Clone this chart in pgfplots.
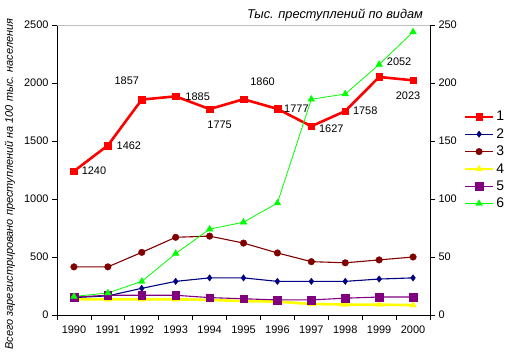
\documentclass[border=0pt]{standalone}
\usepackage{pgfplots}
\pgfplotsset{compat=1.18}
\usepackage{fontspec}
\setmainfont{Liberation Sans}
\definecolor{navyc}{RGB}{0,0,128}
\definecolor{maroonc}{RGB}{128,0,0}
\definecolor{purplec}{RGB}{128,0,128}
\definecolor{greenc}{RGB}{0,255,0}
\definecolor{yellowc}{RGB}{255,255,0}
\begin{document}
\begin{tikzpicture}[x=1bp,y=1bp]
\useasboundingbox (0,0) rectangle (513,357);
\pgfplotsset{
  common/.style={
    scale only axis, width=373bp, height=290bp,
    at={(57bp,42bp)}, anchor=south west,
    xmin=-0.5, xmax=10.5,
    /pgf/number format/assume math mode=true,
    tick label style={font=\fontsize{11}{13}\selectfont},
    tick align=outside, major tick length=5bp, minor tick length=5bp,
    axis line style={-, black, line width=0.8bp},
    tick style={black, line width=0.8bp},
    clip=false,
  }
}
\begin{axis}[common,
  axis x line*=bottom, axis y line*=left,
  ymin=0, ymax=2500, ytick={0,500,...,2500},
  xtick={0,...,10},
  xticklabels={1990,1991,1992,1993,1994,1995,1996,1997,1998,1999,2000},
  minor xtick={-0.5,0.5,...,10.5},
  every major x tick/.append style={draw=none},
  xticklabel style={yshift=-2bp},
  /pgf/number format/1000 sep={},
]
\addplot[red, line width=2.6bp, mark=square*, mark size=3.3bp, mark options={solid, line width=0.4bp}] coordinates {
(0,1240) (1,1462) (2,1857) (3,1885) (4,1775) (5,1860) (6,1777) (7,1627) (8,1758) (9,2052) (10,2023)};
\begin{scope}[every node/.style={font=\fontsize{11}{13}\selectfont, inner sep=0pt}]
\node[xshift=20bp] at (axis cs:0,1240) {1240};
\node[xshift=21bp] at (axis cs:1,1462) {1462};
\node[xshift=-15bp, yshift=19bp] at (axis cs:2,1857) {1857};
\node[xshift=22bp] at (axis cs:3,1885) {1885};
\node[xshift=10bp, yshift=-16bp] at (axis cs:4,1775) {1775};
\node[xshift=19bp, yshift=18bp] at (axis cs:5,1860) {1860};
\node[xshift=19bp] at (axis cs:6,1777) {1777};
\node[xshift=20bp, yshift=-2bp] at (axis cs:7,1627) {1627};
\node[xshift=20bp] at (axis cs:8,1758) {1758};
\node[xshift=20bp, yshift=15bp] at (axis cs:9,2052) {2052};
\node[xshift=-5bp, yshift=-15bp] at (axis cs:10,2023) {2023};
\end{scope}
\end{axis}
\begin{axis}[common,
  axis y line*=right, axis x line=none,
  ymin=0, ymax=250, ytick={0,50,...,250},
  legend cell align=left,
  legend style={at={(rel axis cs:1.09,0.71)}, anchor=north west, draw=none, fill=none,
    font=\fontsize{14}{16}\selectfont, row sep=2.2bp, inner sep=0pt},
  legend image code/.code={\draw[mark repeat=2, mark phase=2] plot coordinates {(0bp,0bp) (14bp,0bp) (28bp,0bp)};},
]
\addlegendimage{red, line width=2.6bp, mark=square*, mark size=3.3bp, mark options={solid, line width=0.4bp}}
\addlegendentry{1}
\addplot[navyc, line width=1.1bp, mark=diamond*, mark size=3.2bp, mark options={line width=0.4bp}] coordinates {
(0,15) (1,16.5) (2,23) (3,29) (4,32) (5,32) (6,29) (7,29) (8,29) (9,31) (10,32)};
\addlegendentry{2}
\addplot[maroonc, line width=1.1bp, mark=*, mark size=3.3bp, mark options={line width=0.4bp}] coordinates {
(0,41.5) (1,41.5) (2,54) (3,67) (4,68) (5,62) (6,53.5) (7,46) (8,45) (9,47.5) (10,50)};
\addlegendentry{3}
\addplot[yellowc, line width=2.6bp, mark=triangle*, mark size=3.8bp, mark options={line width=0.4bp}] coordinates {
(0,13.5) (1,13.5) (2,13.5) (3,13.5) (4,13) (5,12) (6,11.5) (7,9.5) (8,9) (9,9) (10,8.5)};
\addlegendentry{4}
\addplot[purplec, line width=1.1bp, mark=square*, mark size=3.8bp, mark options={line width=0.4bp}] coordinates {
(0,15.5) (1,17) (2,17) (3,17) (4,15) (5,14) (6,13) (7,13) (8,14.5) (9,15.5) (10,15.5)};
\addlegendentry{5}
\addplot[greenc, line width=0.8bp, mark=triangle*, mark size=3.8bp, mark options={line width=0.4bp}] coordinates {
(0,16) (1,19) (2,29) (3,53) (4,74) (5,80) (6,96.5) (7,186) (8,190.5) (9,216) (10,244)};
\addlegendentry{6}
\end{axis}
\draw[black!25, line width=0.8bp] (57,332) -- (430,332);
\node[font=\fontsize{12.8}{14}\selectfont\itshape, anchor=base] at (335,339) {Тыс. преступлений по видам};
\node[font=\fontsize{11}{12}\selectfont\itshape, rotate=90] at (10,173) {Всего зарегистрировано преступлений на 100 тыс. населения};
\end{tikzpicture}
\end{document}
